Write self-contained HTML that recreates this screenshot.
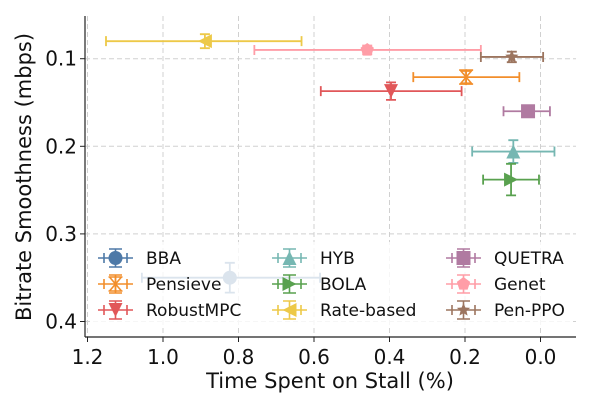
<!DOCTYPE html>
<html><head><meta charset="utf-8"><style>
html,body{margin:0;padding:0;background:#fff;}
svg{display:block;font-family:"DejaVu Sans","Liberation Sans",sans-serif;}
</style></head><body>
<svg id="chart" width="600" height="400" viewBox="0 0 600 400">
<g id="grid"></g>
<g id="series"></g>
<rect x="90" y="242" width="482" height="84" fill="rgba(255,255,255,0.8)"/>
<g id="legend"></g>
<g id="axes"></g>
<text x="330" y="388" font-size="21" text-anchor="middle" fill="#111">Time Spent on Stall (%)</text>
<text transform="translate(31,177) rotate(-90)" font-size="21" text-anchor="middle" fill="#111">Bitrate Smoothness (mbps)</text>
</svg>
<script>
const names = ["BBA","Pensieve","RobustMPC","HYB","BOLA","Rate-based","QUETRA","Genet","Pen-PPO"];
const colors = ["#4e79a7","#f28e2b","#e15759","#76b7b2","#59a14f","#edc948","#b07aa1","#ff9da7","#9c755f"];
const markers = ["circle","x","tri-down","tri-up","tri-right","tri-left","square","pentagon","star"];
const stall = [0.823,0.197,0.396,0.072,0.078,0.889,0.033,0.459,0.076];
const stallLo = [0.584,0.056,0.209,-0.037,0.004,0.633,-0.025,0.158,-0.007];
const stallHi = [1.056,0.337,0.582,0.181,0.152,1.151,0.098,0.758,0.158];
const smooth = [0.350,0.121,0.137,0.206,0.238,0.080,0.160,0.090,0.098];
const smoothErr = [0.017,0.007,0.010,0.013,0.018,0.008,0.006,0.005,0.006];
const xTicks = [1.2,1.0,0.8,0.6,0.4,0.2,0.0];
const yTicks = [0.1,0.2,0.3,0.4];

const L=85,R=576,T=16,B=337;
const xS = v => 87.5 + (1.2 - v) * 377.5;
const yS = v => 58.7 + (v - 0.1) * 876;
const NS="http://www.w3.org/2000/svg";
function mk(tag, attrs, parent){const e=document.createElementNS(NS,tag);for(const k in attrs)e.setAttribute(k,attrs[k]);parent.appendChild(e);return e;}
const grid=document.getElementById('grid'),axes=document.getElementById('axes'),ser=document.getElementById('series'),leg=document.getElementById('legend');

xTicks.forEach(t=>{const x=xS(t);
 const g=mk('line',{x1:x,x2:x,y1:T,y2:B,stroke:'#d0d0d0','stroke-width':1,'stroke-dasharray':'5,3'},grid);
 
 
 const tk=mk('line',{x1:x,x2:x,y1:B,y2:B+5,stroke:'#222','stroke-width':1},axes);
 
 
 const tx=mk('text',{x:x,y:B+27,'font-size':20,'text-anchor':'middle',fill:'#111'},axes);
 tx.textContent=t.toFixed(1);
 
 
});
yTicks.forEach(t=>{const y=yS(t);
 const g=mk('line',{x1:L,x2:R,y1:y,y2:y,stroke:'#d0d0d0','stroke-width':1,'stroke-dasharray':'5,3'},grid);
 
 
 const tk=mk('line',{x1:L-5,x2:L,y1:y,y2:y,stroke:'#222','stroke-width':1},axes);
 
 
 const tx=mk('text',{x:L-8,y:y+7,'font-size':20,'text-anchor':'end',fill:'#111'},axes);
 tx.textContent=t.toFixed(1);
 
 
});
const xa=mk('line',{x1:L,x2:R,y1:B,y2:B,stroke:'#222','stroke-width':1.2},axes);


const ya=mk('line',{x1:L,x2:L,y1:T,y2:B,stroke:'#222','stroke-width':1.2},axes);



function marker(type,cx,cy,c,p){const r=7;let e;
 if(type==='circle') e=mk('circle',{cx:cx,cy:cy,r:r,fill:c},p);
 else if(type==='square') e=mk('rect',{x:cx-r,y:cy-r,width:2*r,height:2*r,fill:c},p);
 else if(type==='x'){e=mk('path',{d:`M${cx-6},${cy-7}L${cx+6},${cy+7}M${cx+6},${cy-7}L${cx-6},${cy+7}M${cx},${cy-8}L${cx},${cy+8}M${cx-7},${cy-7}L${cx+7},${cy-7}M${cx-7},${cy+7}L${cx+7},${cy+7}`,stroke:c,'stroke-width':1.6,fill:'none'},p);}
 else{let pts;
  if(type==='tri-down')pts=[[-r,-r],[r,-r],[0,r]];
  else if(type==='tri-up')pts=[[-r,r],[r,r],[0,-r]];
  else if(type==='tri-right')pts=[[-r,-r],[-r,r],[r,0]];
  else if(type==='tri-left')pts=[[r,-r],[r,r],[-r,0]];
  else if(type==='pentagon'){pts=[];for(let i=0;i<5;i++){const a=-Math.PI/2+i*2*Math.PI/5;pts.push([r*Math.cos(a),r*Math.sin(a)]);}}
  else {pts=[];for(let i=0;i<10;i++){const a=-Math.PI/2+i*Math.PI/5,rr=i%2?r*0.45:r;pts.push([rr*Math.cos(a),rr*Math.sin(a)]);}}
  e=mk('polygon',{points:pts.map(q=>(cx+q[0])+','+(cy+q[1])).join(' '),fill:c},p);}
 return e;}

names.forEach((n,i)=>{const c=colors[i];
 const g=mk('g',{},ser);
 
 
 const cx=xS(stall[i]),cy=yS(smooth[i]),x1=xS(stallHi[i]),x2=xS(stallLo[i]),y1=yS(smooth[i]-smoothErr[i]),y2=yS(smooth[i]+smoothErr[i]);
 mk('path',{d:`M${x1},${cy}H${x2}M${x1},${cy-5}V${cy+5}M${x2},${cy-5}V${cy+5}M${cx},${y1}V${y2}M${cx-5},${y1}H${cx+5}M${cx-5},${y2}H${cx+5}`,stroke:c,'stroke-width':1.8,fill:'none'},g);
 marker(markers[i],cx,cy,c,g);
 const col=Math.floor(i/3),row=i%3;
 const lx=[98,272,446][col],ly=258+row*26;
 const lg=mk('g',{},leg);
 
 
 mk('path',{d:`M${lx},${ly}H${lx+35}M${lx+6},${ly-5}V${ly+5}M${lx+29},${ly-5}V${ly+5}M${lx+11},${ly-9}H${lx+24}M${lx+11},${ly+9}H${lx+24}M${lx+17.5},${ly-9}V${ly+9}`,stroke:c,'stroke-width':1.6,fill:'none'},lg);
 marker(markers[i],lx+17.5,ly,c,lg);
 const t=mk('text',{x:lx+48,y:ly+6,'font-size':17,fill:'#111'},lg);
 t.textContent=n;
});
</script>
</body></html>
